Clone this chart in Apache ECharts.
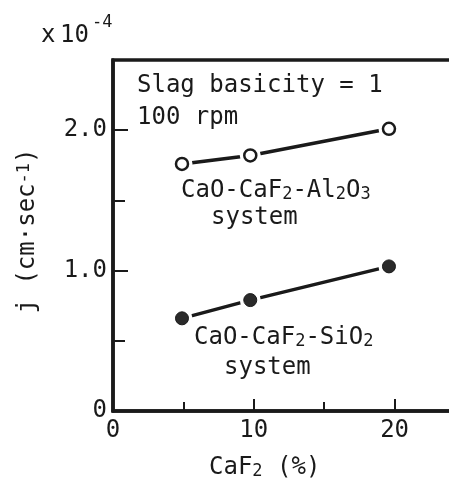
<!DOCTYPE html>
<html>
<head>
<meta charset="utf-8">
<script src="https://cdn.jsdelivr.net/npm/echarts@6/dist/echarts.min.js"></script>
<style>
  html, body { margin: 0; padding: 0; background: #ffffff; }
  #chart { width: 449px; height: 484px; }
</style>
</head>
<body>
<div id="chart"></div>
<script>
// CaF2 content (%) and mass-transfer coefficient j (x10^-4 cm/sec)
var caf2Al = [4.9, 9.75, 19.6];
var jAl = [1.76, 1.82, 2.01];      // CaO-CaF2-Al2O3 system (open circles)
var caf2Si = [4.9, 9.75, 19.6];
var jSi = [0.66, 0.79, 1.03];      // CaO-CaF2-SiO2 system (filled circles)

var xTicks = [0, 10, 20];
var yTicks = [0, 1.0, 2.0];

var INK = '#1a1a1a';
var FONT = '"DejaVu Sans Mono", "Liberation Mono", monospace';

function pairs(xs, ys) {
  return xs.map(function (x, i) { return [x, ys[i]]; });
}

var richStyles = {
  n: { fontFamily: FONT, fontSize: 24, lineHeight: 24, color: INK },
  sub: { fontFamily: FONT, fontSize: 17, lineHeight: 14, verticalAlign: 'bottom', color: INK },
  sup: { fontFamily: FONT, fontSize: 17, lineHeight: 14, verticalAlign: 'top', color: INK }
};

function label(x, y, text, rotation) {
  return {
    type: 'text',
    x: x, y: y,
    rotation: rotation || 0,
    z: 10,
    style: {
      text: text,
      rich: richStyles,
      fill: INK,
      font: '24px ' + FONT,
      align: rotation ? 'center' : 'left',
      verticalAlign: rotation ? 'middle' : 'top'
    }
  };
}

var chart = echarts.init(document.getElementById('chart'), null, { renderer: 'canvas' });

chart.setOption({
  backgroundColor: '#ffffff',
  animation: false,
  grid: {
    left: 113, top: 60, bottom: 73, right: -16,
    outerBoundsMode: 'none',
    containLabel: false,
    show: true, borderColor: INK, borderWidth: 3.5,
    backgroundColor: 'transparent'
  },
  xAxis: {
    type: 'value',
    min: 0, max: 25, interval: 10,
    axisLine: { show: true, lineStyle: { color: INK, width: 3.5 } },
    axisTick: { show: true, inside: true, length: 12, lineStyle: { color: INK, width: 2 } },
    minorTick: { show: true, splitNumber: 2, length: 9, lineStyle: { color: INK, width: 2 } },
    splitLine: { show: false },
    axisLabel: {
      margin: 8, color: INK, fontFamily: FONT, fontSize: 24,
      formatter: function (v) { return xTicks.indexOf(v) >= 0 ? String(v) : ''; }
    }
  },
  yAxis: {
    type: 'value',
    min: 0, max: 2.5, interval: 1,
    axisLine: { show: true, lineStyle: { color: INK, width: 3.5 } },
    axisTick: { show: true, inside: true, length: 15, lineStyle: { color: INK, width: 2 } },
    minorTick: { show: true, splitNumber: 2, length: 12, lineStyle: { color: INK, width: 2 } },
    splitLine: { show: false },
    axisLabel: {
      margin: 6, color: INK, fontFamily: FONT, fontSize: 24,
      formatter: function (v) {
        if (yTicks.indexOf(v) < 0) return '';
        return v === 0 ? '0' : v.toFixed(1);
      }
    }
  },
  graphic: [
    { type: 'text', x: 41, y: 24, z: 10, style: { text: 'x', font: '24px ' + FONT, fill: INK } },
    { type: 'text', x: 60, y: 24, z: 10, style: { text: '10', font: '24px ' + FONT, fill: INK } },
    { type: 'text', x: 92, y: 14, z: 10, style: { text: '-4', font: '17px ' + FONT, fill: INK } },
    label(137, 74, '{n|Slag basicity = 1}'),
    label(137, 106, '{n|100 rpm}'),
    label(181, 179, '{n|CaO-CaF}{sub|2}{n|-Al}{sub|2}{n|O}{sub|3}'),
    label(211, 206, '{n|system}'),
    label(194, 326, '{n|CaO-CaF}{sub|2}{n|-SiO}{sub|2}'),
    label(224, 356, '{n|system}'),
    label(209, 456, '{n|CaF}{sub|2}{n| (%)}'),
    label(28, 231, '{n|j (cm·sec}{sup|-1}{n|)}', Math.PI / 2)
  ],
  series: [
    {
      type: 'line', data: pairs(caf2Al, jAl), showSymbol: false, z: 2,
      lineStyle: { color: INK, width: 3.5 }, silent: true
    },
    {
      type: 'line', data: pairs(caf2Si, jSi), showSymbol: false, z: 2,
      lineStyle: { color: INK, width: 3.5 }, silent: true
    },
    // white halos leave a small gap between the line ends and the markers
    {
      type: 'scatter', data: pairs(caf2Al, jAl).concat(pairs(caf2Si, jSi)), z: 3,
      symbol: 'circle', symbolSize: 21, itemStyle: { color: '#ffffff', opacity: 1 }, silent: true
    },
    {
      type: 'scatter', data: pairs(caf2Al, jAl), z: 4,
      symbol: 'circle', symbolSize: 12,
      itemStyle: { color: '#ffffff', borderColor: INK, borderWidth: 2.5, opacity: 1 }
    },
    {
      type: 'scatter', data: pairs(caf2Si, jSi), z: 4,
      symbol: 'circle', symbolSize: 13,
      itemStyle: { color: '#2a2a2a', borderColor: INK, borderWidth: 1, opacity: 1 }
    }
  ]
});
</script>
</body>
</html>
